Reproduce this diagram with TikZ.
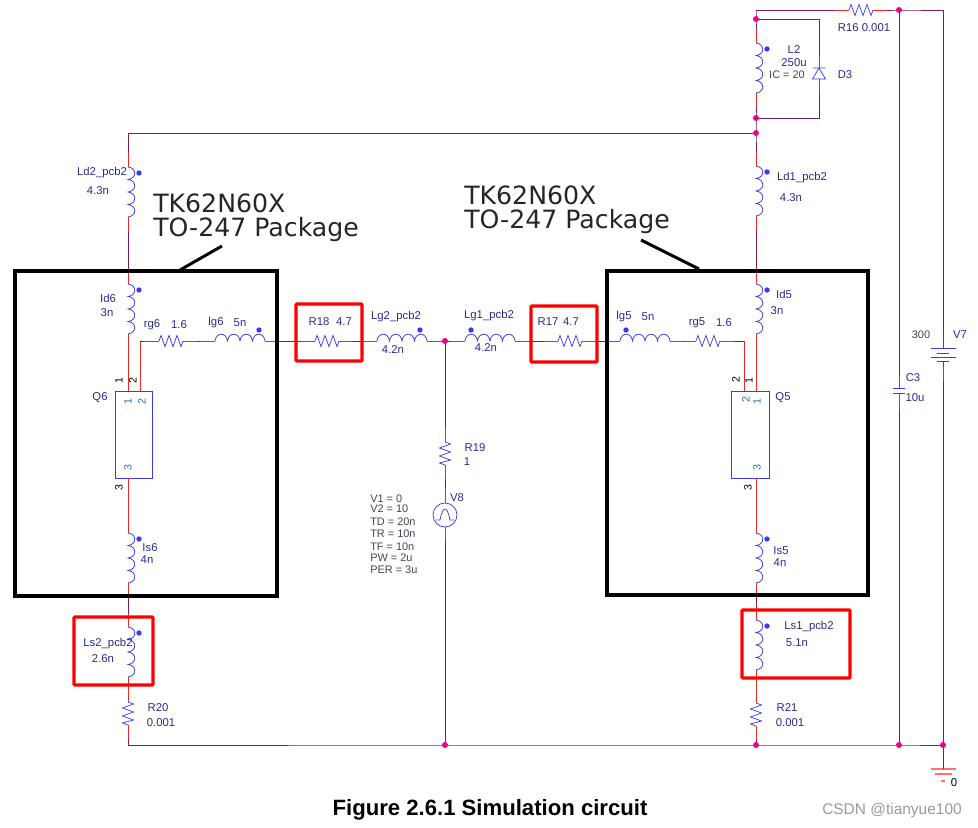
\documentclass[tikz,border=0pt]{standalone}
\usepackage{fontspec}
\setmainfont{Liberation Sans}
\newfontfamily\bigfont{DejaVu Sans}
\usetikzlibrary{positioning,calc}

\def\unitpx{0.75pt}
\definecolor{wirecol}{HTML}{7A1F5C}
\definecolor{stubcol}{HTML}{F02828}
\definecolor{partcol}{HTML}{3C3CE6}
\definecolor{textcol}{HTML}{2A2A90}
\definecolor{parmcol}{HTML}{444455}
\definecolor{pincol}{HTML}{2D6FA8}
\definecolor{gndcol}{HTML}{FF7070}
\definecolor{markcol}{HTML}{9A9A9A}

\tikzset{
  wire/.style = {draw=wirecol, line width=0.6pt},
  stub/.style = {draw=stubcol, line width=0.6pt},
  part/.style = {draw=partcol, line width=0.55pt},
  dot/.style  = {fill=partcol},
  junc/.style = {circle, fill=magenta, inner sep=0pt, minimum size=6*\unitpx},
  lbl/.style  = {text=textcol, inner sep=0pt, font=\fontsize{8.5}{9}\selectfont},
  parm/.style = {text=parmcol, inner sep=0pt, font=\fontsize{8.2}{9}\selectfont},
  pinout/.style = {text=black, inner sep=0pt, rotate=90, font=\fontsize{8}{8}\selectfont},
  pinin/.style  = {text=pincol, inner sep=0pt, rotate=90, font=\fontsize{8}{8}\selectfont},
  fet/.style  = {draw=partcol, line width=0.7pt, inner sep=0pt, minimum height=87*\unitpx},
  pkg/.style  = {draw=black, line width=2.7pt},
  redbox/.style = {draw=red, line width=2.4pt, rounded corners=0.6pt},
  ptr/.style  = {draw=black, line width=2.2pt},
  pkgtxt/.style = {text=black!85, inner sep=0pt, anchor=west, font=\bigfont\fontsize{18.9}{21}\selectfont},
  % vertical coil, 50 long
  vcoil/.pic = {
    \coordinate (-a) at (0,-14);
    \coordinate (-b) at (0,64);
    \draw[stub] (-a) -- (0,0) (0,50) -- (-b);
    \draw[part] (0,0) foreach \k in {0,1,2,3} { .. controls (9,{\k*12.5+1}) and (9,{\k*12.5+11.5}) .. (0,{(\k+1)*12.5}) };
    \fill[dot] (11,6) circle (2.7);
  },
  % horizontal coil, argument places the dot
  hcoil/.pic = {
    \coordinate (-a) at (-14,0);
    \coordinate (-b) at (64,0);
    \draw[stub] (-a) -- (0,0) (50,0) -- (-b);
    \draw[part] (0,0) foreach \k in {0,1,2,3} { .. controls ({\k*12.5+1},-9) and ({\k*12.5+11.5},-9) .. ({(\k+1)*12.5},0) };
    \fill[dot] (#1,-11) circle (2.7);
  },
  hres/.pic = {
    \coordinate (-a) at (-14,0);
    \coordinate (-b) at (38,0);
    \draw[stub] (-a) -- (0,0) (24,0) -- (-b);
    \draw[part] (0,0) -- (2,-5.5) -- (6,5.5) -- (10,-5.5) -- (14,5.5) -- (18,-5.5) -- (22,5.5) -- (24,0);
  },
  vres/.pic = {
    \coordinate (-a) at (0,-14);
    \coordinate (-b) at (0,37);
    \draw[stub] (-a) -- (0,0) (0,23) -- (-b);
    \draw[part] (0,0) -- (5.5,2) -- (-5.5,6) -- (5.5,10) -- (-5.5,14) -- (5.5,18) -- (-5.5,21) -- (0,23);
  },
  diode/.pic = {
    \coordinate (-a) at (0,-11);
    \coordinate (-b) at (0,25);
    \draw[stub] (-a) -- (0,0) (0,11) -- (-b);
    \draw[part] (-6.5,0) -- (6.5,0) (0,0) -- (-6.5,11) -- (6.5,11) -- cycle;
  },
  cap/.pic = {
    \coordinate (-a) at (0,-12);
    \coordinate (-b) at (0,22);
    \draw[stub] (-a) -- (0,0) (0,5) -- (-b);
    \draw[part] (-6,0) -- (6,0);
    \draw[part] (-6,5) -- (6,5);
  },
  batt/.pic = {
    \coordinate (-a) at (0,0);
    \coordinate (-b) at (0,49);
    \draw[part] (-a) -- (0,16) (-12.5,16) -- (12.5,16) (-6,21) -- (6,21);
    \draw[part] (-12.5,25) -- (12.5,25) (-6,29) -- (6,29) (0,29) -- (0,35);
    \draw[stub] (0,35) -- (-b);
  },
  vpulse/.pic = {
    \coordinate (-a) at (0,-26);
    \coordinate (-b) at (0,26);
    \draw[stub] (-a) -- (0,-12) (0,12) -- (-b);
    \draw[part] (0,0) circle (12);
    \draw[part] (-9,5) -- (-5,5) .. controls (-3,-5) and (-1,-6) .. (0,-6) .. controls (1,-6) and (3,-5) .. (5,5) -- (9,5);
  },
  gnd/.pic = {
    \coordinate (-a) at (0,0);
    \draw[draw=gndcol, line width=0.8pt] (-12.5,0) -- (12.5,0) (-8.5,5) -- (8.5,5) (-2,12) -- (2,12);
  }
}

\begin{document}
\begin{tikzpicture}[x=\unitpx,y=-\unitpx]

\useasboundingbox (0,0) rectangle (978,828);

% Rails
\coordinate (railTL) at (128,133);
\coordinate (railBL) at (128,745);
\coordinate (topL)   at (756,10);
\coordinate (topR)   at (943,10);
\coordinate (loopTR) at (819,19);
\coordinate (loopBR) at (819,118);

% Parts of the left leg
\pic (Ld2) at (128,167) {vcoil};
\pic (Id6) at (128,284) {vcoil};
\pic (Is6) at (128,533) {vcoil};
\pic (Ls2) at (128,627) {vcoil};
\pic (R20) at (128,702) {vres};
\node[fet, minimum width=37*\unitpx] (Q6) at (133.5,434.5) {};
\coordinate (Q6d) at (128,391);
\coordinate (Q6g) at (140,391);
\coordinate (Q6s) at (128,478);
\coordinate (Q6c) at (140,341);

% Parts of the gate line
\pic (rg6) at (159,341) {hres};
\pic (lg6) at (215,341) {hcoil=44};
\pic (R18) at (315,341) {hres};
\pic (Lg2) at (377,341) {hcoil=43};
\pic (Lg1) at (465,341) {hcoil=6};
\pic (R17) at (558,341) {hres};
\pic (lg5) at (620,341) {hcoil=6};
\pic (rg5) at (696,341) {hres};

% Gate source
\pic (R19) at (445,442) {vres};
\pic (V8)  at (445,515) {vpulse};

% Parts of the right leg
\pic (R16) at (849,10)  {hres};
\pic (L2)  at (756,43)  {vcoil};
\pic (D3)  at (819,68)  {diode};
\pic (Ld1) at (756,166) {vcoil};
\pic (Id5) at (756,284) {vcoil};
\pic (Is5) at (756,533) {vcoil};
\pic (Ls1) at (756,620) {vcoil};
\pic (R21) at (756,703) {vres};
\node[fet, minimum width=38*\unitpx] (Q5) at (750,434.5) {};
\coordinate (Q5d) at (756,391);
\coordinate (Q5g) at (744,391);
\coordinate (Q5s) at (756,478);
\coordinate (Q5c) at (744,341);

% Supply
\pic (C3) at (899,388) {cap};
\pic (V7) at (943,332) {batt};
\pic (G0) at (943,769) {gnd};

% Junctions
\coordinate (pTop)  at (899,10);
\coordinate (pL2a)  at (756,19);
\coordinate (pL2b)  at (756,118);
\coordinate (pRail) at (756,133);
\coordinate (pGate) at (445,341);
\coordinate (pV8)   at (445,745);
\coordinate (pR21)  at (756,745);
\coordinate (pC3)   at (899,745);
\coordinate (pV7)   at (943,745);

% Connecting wires
\draw[wire] (topL) -- (R16-a) (R16-b) -- (pTop) -- (topR) -- (V7-a);
\draw[wire] (topL) -- (pL2a) -- (L2-a) (L2-b) -- (pL2b) -- (pRail) -- (Ld1-a);
\draw[wire] (pL2a) -- (loopTR) -- (D3-a) (D3-b) -- (loopBR) -- (pL2b);
\draw[wire] (pRail) -- (railTL) -- (Ld2-a);
\draw[wire] (Ld2-b) -- (Id6-a) (Ld1-b) -- (Id5-a);
\draw[stub] (Id6-b) -- (Q6d) (Q6s) -- (Is6-a);
\draw[stub] (Id5-b) -- (Q5d) (Q5s) -- (Is5-a);
\draw[wire] (Is6-b) -- (Ls2-a) (Is5-b) -- (Ls1-a);
\draw[stub] (Ls2-b) -- (R20-a) (Ls1-b) -- (R21-a);
\draw[wire] (R20-b) -- (railBL) -- (pV8) -- (pR21) -- (pC3) -- (pV7);
\draw[wire] (R21-b) -- (pR21);
\draw[stub] (Q6g) -- (Q6c);
\draw[wire] (Q6c) -- (rg6-a) (rg6-b) -- (lg6-a) (lg6-b) -- (R18-a) (R18-b) -- (Lg2-a) (Lg2-b) -- (pGate);
\draw[wire] (pGate) -- (Lg1-a) (Lg1-b) -- (R17-a) (R17-b) -- (lg5-a) (lg5-b) -- (rg5-a);
\draw[wire] (rg5-b) -- (Q5c);
\draw[stub] (Q5c) -- (Q5g);
\draw[wire] (pGate) -- (R19-a) (R19-b) -- (V8-a) (V8-b) -- (pV8);
\draw[wire] (pTop) -- (C3-a) (C3-b) -- (pC3);
\draw[wire] (V7-b) -- (pV7) -- (G0-a);

\node[junc] (jTop)  at (pTop)  {};
\node[junc] (jL2a)  at (pL2a)  {};
\node[junc] (jL2b)  at (pL2b)  {};
\node[junc] (jRail) at (pRail) {};
\node[junc] (jGate) at (pGate) {};
\node[junc] (jV8)   at (pV8)   {};
\node[junc] (jR21)  at (pR21)  {};
\node[junc] (jC3)   at (pC3)   {};
\node[junc] (jV7)   at (pV7)   {};

% Package outlines
\node[pkg, minimum width=262*\unitpx, minimum height=325*\unitpx] (pkg6) at (146,433.5) {};
\node[pkg, minimum width=261*\unitpx, minimum height=324*\unitpx] (pkg5) at (737.5,433) {};
\coordinate (ptr6a) at (180,270);
\coordinate (ptr6b) at (222,246);
\coordinate (ptr5a) at (699,269);
\coordinate (ptr5b) at (641,240);
\draw[ptr] (ptr6a) -- (ptr6b);
\draw[ptr] (ptr5a) -- (ptr5b);
\node[pkgtxt] (tk6a) at (153,203) {TK62N60X};
\node[pkgtxt] (tk6b) at (153,230) {TO-247 Package};
\node[pkgtxt] (tk5a) at (464,195) {TK62N60X};
\node[pkgtxt] (tk5b) at (464,222) {TO-247 Package};

% Red marks
\node[redbox, minimum width=66*\unitpx, minimum height=57*\unitpx] (mR18) at (329,332.5) {};
\node[redbox, minimum width=66*\unitpx, minimum height=56*\unitpx] (mR17) at (564,334) {};
\node[redbox, minimum width=79*\unitpx, minimum height=68*\unitpx] (mLs2) at (113.5,651) {};
\node[redbox, minimum width=108*\unitpx, minimum height=68*\unitpx] (mLs1) at (796,644) {};

% Labels, left leg
\node[lbl] (tLd2)  at (102,173) {Ld2\_pcb2};
\node[lbl] (vLd2)  at (98,191)  {4.3n};
\node[lbl] (tId6)  at (108,298) {Id6};
\node[lbl] (vId6)  at (107,313) {3n};
\node[lbl] (tQ6)   at (100,398) {Q6};
\node[lbl] (tIs6)  at (150,548) {Is6};
\node[lbl] (vIs6)  at (147,560) {4n};
\node[lbl] (tLs2)  at (108,644) {Ls2\_pcb2};
\node[lbl] (vLs2)  at (103,659) {2.6n};
\node[lbl] (tR20)  at (158,708) {R20};
\node[lbl] (vR20)  at (161,723) {0.001};
\node[pinout] (p6a) at (119,381) {1};
\node[pinout] (p6b) at (133,381) {2};
\node[pinout] (p6c) at (119,488) {3};
\node[pinin]  (p6d) at (128,402) {1};
\node[pinin]  (p6e) at (142,402) {2};
\node[pinin]  (p6f) at (128,468) {3};

% Labels, gate line
\node[lbl] (trg6)  at (152,325) {rg6};
\node[lbl] (vrg6)  at (179,325) {1.6};
\node[lbl] (tlg6)  at (216,323) {lg6};
\node[lbl] (vlg6)  at (240,323) {5n};
\node[lbl] (tR18)  at (319,322) {R18};
\node[lbl] (vR18)  at (344,322) {4.7};
\node[lbl] (tLg2)  at (396,317) {Lg2\_pcb2};
\node[lbl] (vLg2)  at (393,350) {4.2n};
\node[lbl] (tLg1)  at (489,316) {Lg1\_pcb2};
\node[lbl] (vLg1)  at (486,348) {4.2n};
\node[lbl] (tR17)  at (548,322) {R17};
\node[lbl] (vR17)  at (571,322) {4.7};
\node[lbl] (tlg5)  at (624,317) {lg5};
\node[lbl] (vlg5)  at (648,317) {5n};
\node[lbl] (trg5)  at (697,323) {rg5};
\node[lbl] (vrg5)  at (724,323) {1.6};

% Labels, gate source
\node[lbl] (tR19)  at (475,448) {R19};
\node[lbl] (vR19)  at (467,462) {1};
\node[lbl] (tV8)   at (457,498) {V8};
\node[parm, anchor=west] (pV1)  at (370,499) {V1 = 0};
\node[parm, anchor=west] (pV2)  at (370,509) {V2 = 10};
\node[parm, anchor=west] (pTD)  at (370,522) {TD = 20n};
\node[parm, anchor=west] (pTR)  at (370,534) {TR = 10n};
\node[parm, anchor=west] (pTF)  at (370,547) {TF = 10n};
\node[parm, anchor=west] (pPW)  at (370,558) {PW = 2u};
\node[parm, anchor=west] (pPER) at (370,570) {PER = 3u};

% Labels, right leg
\node[lbl]  (tR16) at (864,28) {R16 0.001};
\node[lbl]  (tL2)  at (794,50) {L2};
\node[lbl]  (vL2)  at (794,63) {250u};
\node[parm] (iL2)  at (787,75) {IC = 20};
\node[lbl]  (tD3)  at (845,75) {D3};
\node[lbl]  (tLd1) at (802,178) {Ld1\_pcb2};
\node[lbl]  (vLd1) at (791,198) {4.3n};
\node[lbl]  (tId5) at (784,294) {Id5};
\node[lbl]  (vId5) at (777,311) {3n};
\node[lbl]  (tQ5)  at (783,398) {Q5};
\node[lbl]  (tIs5) at (781,551) {Is5};
\node[lbl]  (vIs5) at (780,563) {4n};
\node[lbl]  (tLs1) at (809,627) {Ls1\_pcb2};
\node[lbl]  (vLs1) at (797,643) {5.1n};
\node[lbl]  (tR21) at (787,708) {R21};
\node[lbl]  (vR21) at (790,723) {0.001};
\node[pinout] (p5a) at (736,380) {2};
\node[pinout] (p5b) at (749,381) {1};
\node[pinout] (p5c) at (748,488) {3};
\node[pinin]  (p5d) at (746,400) {2};
\node[pinin]  (p5e) at (757,402) {1};
\node[pinin]  (p5f) at (757,468) {3};

% Labels, supply
\node[lbl]  (tC3) at (913,378) {C3};
\node[lbl]  (vC3) at (915,398) {10u};
\node[parm] (vV7) at (921,335) {300};
\node[lbl]  (tV7) at (960,335) {V7};
\node[text=black, inner sep=0pt, font=\fontsize{8.5}{9}\selectfont] (tG0) at (954,783) {0};

% Caption
\node[inner sep=0pt, font=\bfseries\fontsize{16.6}{18}\selectfont] (caption) at (490,810) {Figure 2.6.1 Simulation circuit};
\node[text=markcol, inner sep=0pt, font=\fontsize{11.6}{13}\selectfont] (csdn) at (892,810) {CSDN @tianyue100};

\end{tikzpicture}
\end{document}
